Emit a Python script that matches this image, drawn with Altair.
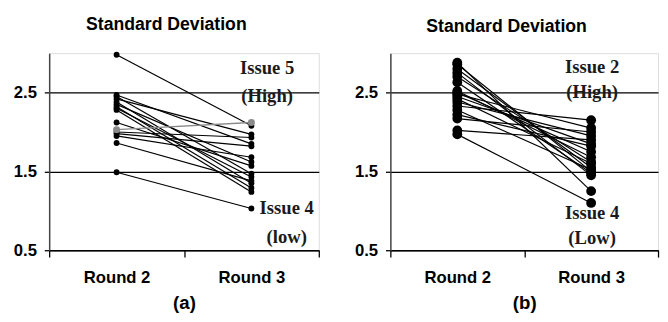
import altair as alt
import pandas as pd

rounds = ["Round 2", "Round 3"]
y_ticks = [0.5, 1.5, 2.5]

# Panel (a): one value per issue in each round; last issue is the grey one (Issue 5)
a_round2 = [2.98, 2.47, 2.45, 2.42, 2.38, 2.35, 2.32, 2.30, 2.28, 2.12, 2.00, 1.98, 1.95, 1.86, 1.49, 2.03]
a_round3 = [2.08, 1.85, 1.47, 1.97, 1.35, 1.62, 1.29, 1.43, 1.24, 1.57, 1.93, 1.82, 1.68, 1.38, 1.03, 2.12]
a_grey = [0] * 15 + [1]

# Panel (b)
b_round2 = [2.88, 2.86, 2.80, 2.75, 2.70, 2.63, 2.52, 2.50, 2.48, 2.45, 2.42, 2.38, 2.33, 2.28, 2.22, 2.17, 2.02, 1.97]
b_round3 = [1.25, 1.50, 1.55, 1.45, 1.62, 1.48, 1.68, 1.75, 2.05, 1.85, 1.60, 1.95, 2.15, 1.52, 1.82, 2.00, 1.90, 1.10]
b_grey = [0] * 18

# annotations: (text, round, value)
a_notes_top = [("Issue 5", "Round 3", 2.81), ("(High)", "Round 3", 2.46)]
a_notes_low = [("Issue 4", "Round 3", 1.04), ("(low)", "Round 3", 0.67)]
b_notes = [("Issue 2", "Round 3", 2.82), ("(High)", "Round 3", 2.50),
           ("Issue 4", "Round 3", 0.97), ("(Low)", "Round 3", 0.655)]


def long_df(r2, r3, grey):
    rows = []
    for i, (v2, v3, g) in enumerate(zip(r2, r3, grey)):
        rows.append({"issue": i, "round": rounds[0], "sd": v2, "grey": g})
        rows.append({"issue": i, "round": rounds[1], "sd": v3, "grey": g})
    return pd.DataFrame(rows)


def notes_df(notes):
    return pd.DataFrame([{"t": t, "round": r, "sd": v} for t, r, v in notes])


Y = alt.Y("sd:Q",
          scale=alt.Scale(domain=[0.5, 3.0], nice=False, zero=False),
          axis=alt.Axis(title=None, values=y_ticks, format=".1f", grid=True,
                        gridColor="black", gridWidth=1.3, tickSize=5, tickColor="black",
                        tickWidth=1.3, labelFontSize=17, labelFont="Liberation Sans",
                        labelFontWeight="bold", labelColor="black", labelPadding=8,
                        domainColor="#444", domainWidth=1.5))


def make_x(caption):
    return alt.X("round:N",
                 scale=alt.Scale(domain=rounds, paddingInner=0, paddingOuter=0),
                 axis=alt.Axis(title=caption, tickBand="extent", tickSize=7, tickColor="black",
                               tickWidth=1.3, labelFontSize=17, labelFont="Liberation Sans",
                               labelFontWeight="bold", labelColor="black", labelPadding=13,
                               labelAngle=0, domainColor="black", domainWidth=1.5,
                               titleFontSize=19, titleFont="Liberation Sans",
                               titleFontWeight="bold", titleColor="black", titlePadding=8))


def panel(df, pt_size, caption, width, note_sets):
    x = make_x(caption)
    black = alt.Chart(df[df.grey == 0])
    grey = alt.Chart(df[df.grey == 1])
    layers = [
        black.mark_line(color="black", strokeWidth=1.2).encode(x=x, y=Y, detail="issue:N"),
        black.mark_circle(color="black", size=pt_size, opacity=1).encode(x=x, y=Y),
    ]
    if len(df[df.grey == 1]):
        layers += [
            grey.mark_line(color="#8a8a8a", strokeWidth=1.4).encode(x=x, y=Y, detail="issue:N"),
            grey.mark_circle(color="#8a8a8a", size=pt_size * 1.4, opacity=1).encode(x=x, y=Y),
        ]
    for notes, dx in note_sets:
        layers.append(
            alt.Chart(notes_df(notes)).mark_text(
                font="Liberation Serif", fontWeight="bold", fontSize=19,
                color="#1a1a1a", baseline="middle", align="center", dx=dx
            ).encode(x=x, y=Y, text="t:N")
        )
    return alt.layer(*layers).properties(
        width=width, height=201,
        title=alt.TitleParams("Standard Deviation", fontSize=18, fontWeight="bold",
                              font="Liberation Sans", color="black", frame="bounds",
                              anchor="middle", offset=18),
    )


pa = panel(long_df(a_round2, a_round3, a_grey), 36, "(a)", 275,
           [(a_notes_top, 16), (a_notes_low, 36)])
pb = panel(long_df(b_round2, b_round3, b_grey), 100, "(b)", 273,
           [(b_notes, 1)])

chart = alt.hconcat(pa, pb, spacing=33).properties(
    padding={"left": 4, "top": 5, "right": 0, "bottom": 0}
).configure_view(stroke="#555", strokeWidth=1.3).configure(background="white")

chart.save("out.html", embed_options={"renderer": "svg", "actions": False})
